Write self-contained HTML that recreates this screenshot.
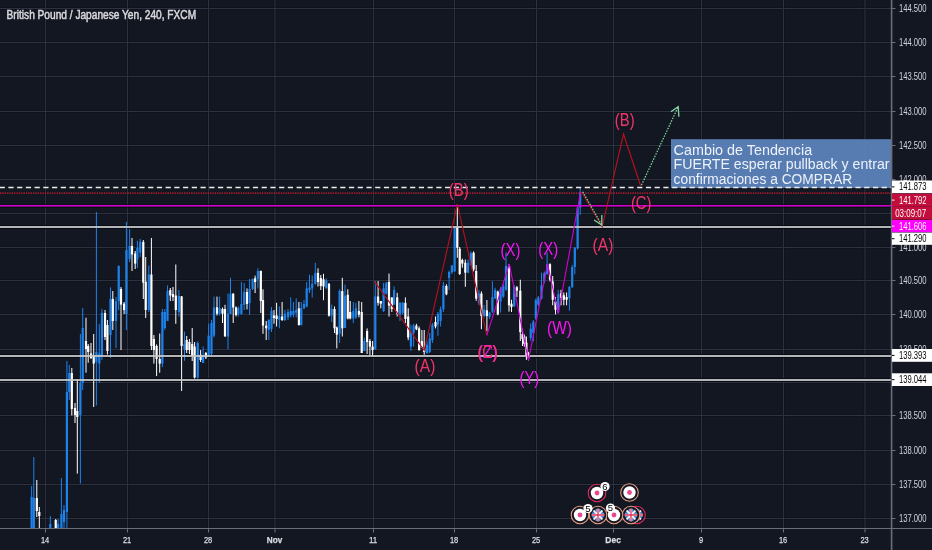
<!DOCTYPE html>
<html><head><meta charset="utf-8"><title>GBPJPY</title>
<style>html,body{margin:0;padding:0;background:#131722;width:932px;height:550px;overflow:hidden}svg{display:block;will-change:transform}</style>
</head><body>
<svg width="932" height="550" viewBox="0 0 932 550"><defs><clipPath id="chartclip"><rect x="0" y="0" width="891.0" height="528.0"/></clipPath></defs><rect x="0" y="0" width="932" height="550" fill="#131722"/>
<rect x="0" y="7" width="891.0" height="1" fill="#10131b"/>
<rect x="0" y="9" width="891.0" height="1" fill="#10131b"/>
<rect x="0" y="41" width="891.0" height="1" fill="#10131b"/>
<rect x="0" y="43" width="891.0" height="1" fill="#10131b"/>
<rect x="0" y="75" width="891.0" height="1" fill="#10131b"/>
<rect x="0" y="77" width="891.0" height="1" fill="#10131b"/>
<rect x="0" y="110" width="891.0" height="1" fill="#10131b"/>
<rect x="0" y="112" width="891.0" height="1" fill="#10131b"/>
<rect x="0" y="144" width="891.0" height="1" fill="#10131b"/>
<rect x="0" y="146" width="891.0" height="1" fill="#10131b"/>
<rect x="0" y="178" width="891.0" height="1" fill="#10131b"/>
<rect x="0" y="180" width="891.0" height="1" fill="#10131b"/>
<rect x="0" y="212" width="891.0" height="1" fill="#10131b"/>
<rect x="0" y="214" width="891.0" height="1" fill="#10131b"/>
<rect x="0" y="246" width="891.0" height="1" fill="#10131b"/>
<rect x="0" y="248" width="891.0" height="1" fill="#10131b"/>
<rect x="0" y="279" width="891.0" height="1" fill="#10131b"/>
<rect x="0" y="281" width="891.0" height="1" fill="#10131b"/>
<rect x="0" y="313" width="891.0" height="1" fill="#10131b"/>
<rect x="0" y="315" width="891.0" height="1" fill="#10131b"/>
<rect x="0" y="348" width="891.0" height="1" fill="#10131b"/>
<rect x="0" y="350" width="891.0" height="1" fill="#10131b"/>
<rect x="0" y="381" width="891.0" height="1" fill="#10131b"/>
<rect x="0" y="383" width="891.0" height="1" fill="#10131b"/>
<rect x="0" y="414" width="891.0" height="1" fill="#10131b"/>
<rect x="0" y="416" width="891.0" height="1" fill="#10131b"/>
<rect x="0" y="449" width="891.0" height="1" fill="#10131b"/>
<rect x="0" y="451" width="891.0" height="1" fill="#10131b"/>
<rect x="0" y="483" width="891.0" height="1" fill="#10131b"/>
<rect x="0" y="485" width="891.0" height="1" fill="#10131b"/>
<rect x="0" y="517" width="891.0" height="1" fill="#10131b"/>
<rect x="0" y="519" width="891.0" height="1" fill="#10131b"/>
<rect x="44" y="0" width="1" height="528.0" fill="#10131b"/>
<rect x="46" y="0" width="1" height="528.0" fill="#10131b"/>
<rect x="126" y="0" width="1" height="528.0" fill="#10131b"/>
<rect x="128" y="0" width="1" height="528.0" fill="#10131b"/>
<rect x="207" y="0" width="1" height="528.0" fill="#10131b"/>
<rect x="209" y="0" width="1" height="528.0" fill="#10131b"/>
<rect x="273.5" y="0" width="1" height="528.0" fill="#10131b"/>
<rect x="275.5" y="0" width="1" height="528.0" fill="#10131b"/>
<rect x="372" y="0" width="1" height="528.0" fill="#10131b"/>
<rect x="374" y="0" width="1" height="528.0" fill="#10131b"/>
<rect x="453" y="0" width="1" height="528.0" fill="#10131b"/>
<rect x="455" y="0" width="1" height="528.0" fill="#10131b"/>
<rect x="535" y="0" width="1" height="528.0" fill="#10131b"/>
<rect x="537" y="0" width="1" height="528.0" fill="#10131b"/>
<rect x="612" y="0" width="1" height="528.0" fill="#10131b"/>
<rect x="614" y="0" width="1" height="528.0" fill="#10131b"/>
<rect x="700" y="0" width="1" height="528.0" fill="#10131b"/>
<rect x="702" y="0" width="1" height="528.0" fill="#10131b"/>
<rect x="782" y="0" width="1" height="528.0" fill="#10131b"/>
<rect x="784" y="0" width="1" height="528.0" fill="#10131b"/>
<rect x="863.5" y="0" width="1" height="528.0" fill="#10131b"/>
<rect x="865.5" y="0" width="1" height="528.0" fill="#10131b"/>
<rect x="0" y="8" width="891.0" height="1" fill="#2d3243"/>
<rect x="0" y="42" width="891.0" height="1" fill="#2d3243"/>
<rect x="0" y="76" width="891.0" height="1" fill="#2d3243"/>
<rect x="0" y="111" width="891.0" height="1" fill="#2d3243"/>
<rect x="0" y="145" width="891.0" height="1" fill="#2d3243"/>
<rect x="0" y="179" width="891.0" height="1" fill="#2d3243"/>
<rect x="0" y="213" width="891.0" height="1" fill="#2d3243"/>
<rect x="0" y="247" width="891.0" height="1" fill="#2d3243"/>
<rect x="0" y="280" width="891.0" height="1" fill="#2d3243"/>
<rect x="0" y="314" width="891.0" height="1" fill="#2d3243"/>
<rect x="0" y="349" width="891.0" height="1" fill="#2d3243"/>
<rect x="0" y="382" width="891.0" height="1" fill="#2d3243"/>
<rect x="0" y="415" width="891.0" height="1" fill="#2d3243"/>
<rect x="0" y="450" width="891.0" height="1" fill="#2d3243"/>
<rect x="0" y="484" width="891.0" height="1" fill="#2d3243"/>
<rect x="0" y="518" width="891.0" height="1" fill="#2d3243"/>
<rect x="45" y="0" width="1" height="528.0" fill="#2d3243"/>
<rect x="127" y="0" width="1" height="528.0" fill="#2d3243"/>
<rect x="208" y="0" width="1" height="528.0" fill="#2d3243"/>
<rect x="274.5" y="0" width="1" height="528.0" fill="#2d3243"/>
<rect x="373" y="0" width="1" height="528.0" fill="#2d3243"/>
<rect x="454" y="0" width="1" height="528.0" fill="#2d3243"/>
<rect x="536" y="0" width="1" height="528.0" fill="#2d3243"/>
<rect x="613" y="0" width="1" height="528.0" fill="#2d3243"/>
<rect x="701" y="0" width="1" height="528.0" fill="#2d3243"/>
<rect x="783" y="0" width="1" height="528.0" fill="#2d3243"/>
<rect x="864.5" y="0" width="1" height="528.0" fill="#2d3243"/>
<rect x="0" y="225" width="891.0" height="1" fill="#0a0b10"/>
<rect x="0" y="228" width="891.0" height="1" fill="#0a0b10"/>
<rect x="0" y="354" width="891.0" height="1" fill="#0a0b10"/>
<rect x="0" y="357" width="891.0" height="1" fill="#0a0b10"/>
<rect x="0" y="378" width="891.0" height="1" fill="#0a0b10"/>
<rect x="0" y="381" width="891.0" height="1" fill="#0a0b10"/>
<rect x="0" y="203.9" width="891.0" height="1" fill="#021206"/>
<rect x="0" y="206.6" width="891.0" height="1" fill="#021206"/>
<g clip-path="url(#chartclip)">
<rect x="31.10" y="486.00" width="1" height="44.00" fill="#1d82ea"/>
<rect x="30.50" y="497.00" width="2.2" height="33.00" fill="#1d82ea"/>
<rect x="33.30" y="457.00" width="1" height="73.00" fill="#1d82ea"/>
<rect x="32.70" y="498.00" width="2.2" height="32.00" fill="#1d82ea"/>
<rect x="36.30" y="480.00" width="1" height="37.00" fill="#ffffff"/>
<rect x="35.70" y="498.00" width="2.2" height="13.00" fill="#ffffff"/>
<rect x="38.80" y="507.00" width="1" height="23.00" fill="#ffffff"/>
<rect x="38.20" y="512.00" width="2.2" height="4.00" fill="#ffffff"/>
<rect x="49.80" y="516.00" width="1" height="14.00" fill="#1d82ea"/>
<rect x="49.20" y="524.00" width="2.2" height="4.00" fill="#1d82ea"/>
<rect x="55.20" y="519.00" width="1" height="11.00" fill="#ffffff"/>
<rect x="54.60" y="520.00" width="2.2" height="10.00" fill="#ffffff"/>
<rect x="57.60" y="519.00" width="1" height="11.00" fill="#1d82ea"/>
<rect x="57.00" y="524.00" width="2.2" height="4.00" fill="#1d82ea"/>
<rect x="60.90" y="478.00" width="1" height="52.00" fill="#1d82ea"/>
<rect x="60.30" y="514.00" width="2.2" height="16.00" fill="#1d82ea"/>
<rect x="63.50" y="505.00" width="1" height="25.00" fill="#1d82ea"/>
<rect x="62.90" y="510.00" width="2.2" height="12.00" fill="#1d82ea"/>
<rect x="66.40" y="361.00" width="1" height="169.00" fill="#1d82ea"/>
<rect x="65.80" y="392.00" width="2.2" height="120.00" fill="#1d82ea"/>
<rect x="68.80" y="365.00" width="1" height="35.00" fill="#1d82ea"/>
<rect x="68.20" y="373.00" width="2.2" height="19.00" fill="#1d82ea"/>
<rect x="71.30" y="368.00" width="1" height="47.50" fill="#ffffff"/>
<rect x="70.70" y="373.00" width="2.2" height="36.00" fill="#ffffff"/>
<rect x="74.50" y="403.00" width="1" height="20.00" fill="#ffffff"/>
<rect x="73.90" y="408.00" width="2.2" height="7.00" fill="#ffffff"/>
<rect x="76.80" y="379.00" width="1" height="94.60" fill="#ffffff"/>
<rect x="76.20" y="411.00" width="2.2" height="6.00" fill="#ffffff"/>
<rect x="79.90" y="334.00" width="1" height="149.60" fill="#1d82ea"/>
<rect x="79.30" y="383.00" width="2.2" height="32.00" fill="#1d82ea"/>
<rect x="82.20" y="308.00" width="1" height="82.00" fill="#1d82ea"/>
<rect x="81.60" y="328.00" width="2.2" height="55.00" fill="#1d82ea"/>
<rect x="85.50" y="317.70" width="1" height="55.00" fill="#ffffff"/>
<rect x="84.90" y="341.00" width="2.2" height="8.00" fill="#ffffff"/>
<rect x="87.70" y="344.00" width="1" height="18.70" fill="#ffffff"/>
<rect x="87.10" y="346.00" width="2.2" height="6.00" fill="#ffffff"/>
<rect x="90.50" y="343.00" width="1" height="16.00" fill="#ffffff"/>
<rect x="89.90" y="353.50" width="2.2" height="4.50" fill="#ffffff"/>
<rect x="93.20" y="334.00" width="1" height="73.00" fill="#ffffff"/>
<rect x="92.60" y="355.00" width="2.2" height="8.60" fill="#ffffff"/>
<rect x="95.90" y="212.00" width="1" height="193.50" fill="#1d82ea"/>
<rect x="95.30" y="352.00" width="2.2" height="10.00" fill="#1d82ea"/>
<rect x="98.80" y="323.80" width="1" height="59.20" fill="#1d82ea"/>
<rect x="98.20" y="353.50" width="2.2" height="10.10" fill="#1d82ea"/>
<rect x="101.40" y="309.00" width="1" height="51.00" fill="#1d82ea"/>
<rect x="100.80" y="312.80" width="2.2" height="42.20" fill="#1d82ea"/>
<rect x="104.50" y="310.00" width="1" height="30.00" fill="#ffffff"/>
<rect x="103.90" y="313.00" width="2.2" height="24.00" fill="#ffffff"/>
<rect x="106.90" y="320.00" width="1" height="34.50" fill="#ffffff"/>
<rect x="106.30" y="325.00" width="2.2" height="26.00" fill="#ffffff"/>
<rect x="110.00" y="287.30" width="1" height="70.70" fill="#1d82ea"/>
<rect x="109.40" y="299.00" width="2.2" height="36.00" fill="#1d82ea"/>
<rect x="112.30" y="291.00" width="1" height="39.00" fill="#ffffff"/>
<rect x="111.70" y="299.00" width="2.2" height="22.00" fill="#ffffff"/>
<rect x="115.50" y="297.00" width="1" height="51.00" fill="#1d82ea"/>
<rect x="114.90" y="301.00" width="2.2" height="20.00" fill="#1d82ea"/>
<rect x="118.20" y="265.40" width="1" height="44.60" fill="#1d82ea"/>
<rect x="117.60" y="266.00" width="2.2" height="35.00" fill="#1d82ea"/>
<rect x="120.50" y="287.00" width="1" height="63.00" fill="#ffffff"/>
<rect x="119.90" y="289.00" width="2.2" height="15.60" fill="#ffffff"/>
<rect x="123.60" y="302.00" width="1" height="12.00" fill="#ffffff"/>
<rect x="123.00" y="303.70" width="2.2" height="6.30" fill="#ffffff"/>
<rect x="125.90" y="222.00" width="1" height="108.00" fill="#1d82ea"/>
<rect x="125.30" y="250.00" width="2.2" height="64.00" fill="#1d82ea"/>
<rect x="129.10" y="229.00" width="1" height="33.00" fill="#1d82ea"/>
<rect x="128.50" y="246.00" width="2.2" height="13.00" fill="#1d82ea"/>
<rect x="131.50" y="238.00" width="1" height="33.00" fill="#ffffff"/>
<rect x="130.90" y="246.00" width="2.2" height="8.50" fill="#ffffff"/>
<rect x="134.70" y="251.00" width="1" height="18.00" fill="#ffffff"/>
<rect x="134.10" y="253.50" width="2.2" height="10.10" fill="#ffffff"/>
<rect x="136.90" y="240.70" width="1" height="27.30" fill="#1d82ea"/>
<rect x="136.30" y="248.00" width="2.2" height="11.00" fill="#1d82ea"/>
<rect x="139.70" y="238.80" width="1" height="18.20" fill="#1d82ea"/>
<rect x="139.10" y="241.70" width="2.2" height="10.90" fill="#1d82ea"/>
<rect x="142.80" y="240.00" width="1" height="59.00" fill="#ffffff"/>
<rect x="142.20" y="242.00" width="2.2" height="40.70" fill="#ffffff"/>
<rect x="145.20" y="257.00" width="1" height="61.00" fill="#ffffff"/>
<rect x="144.60" y="281.80" width="2.2" height="28.20" fill="#ffffff"/>
<rect x="148.30" y="265.50" width="1" height="46.50" fill="#1d82ea"/>
<rect x="147.70" y="274.50" width="2.2" height="35.50" fill="#1d82ea"/>
<rect x="150.90" y="238.00" width="1" height="112.00" fill="#ffffff"/>
<rect x="150.30" y="274.50" width="2.2" height="71.50" fill="#ffffff"/>
<rect x="153.40" y="335.00" width="1" height="28.60" fill="#ffffff"/>
<rect x="152.80" y="339.00" width="2.2" height="11.00" fill="#ffffff"/>
<rect x="156.10" y="344.40" width="1" height="31.60" fill="#ffffff"/>
<rect x="155.50" y="346.00" width="2.2" height="13.00" fill="#ffffff"/>
<rect x="159.20" y="333.50" width="1" height="39.20" fill="#ffffff"/>
<rect x="158.60" y="359.00" width="2.2" height="4.60" fill="#ffffff"/>
<rect x="161.90" y="309.00" width="1" height="58.00" fill="#1d82ea"/>
<rect x="161.30" y="312.00" width="2.2" height="51.60" fill="#1d82ea"/>
<rect x="164.30" y="309.00" width="1" height="21.00" fill="#1d82ea"/>
<rect x="163.70" y="312.00" width="2.2" height="16.00" fill="#1d82ea"/>
<rect x="167.00" y="285.50" width="1" height="35.50" fill="#1d82ea"/>
<rect x="166.40" y="291.00" width="2.2" height="30.00" fill="#1d82ea"/>
<rect x="169.80" y="288.00" width="1" height="13.00" fill="#ffffff"/>
<rect x="169.20" y="290.00" width="2.2" height="5.50" fill="#ffffff"/>
<rect x="172.50" y="287.00" width="1" height="14.00" fill="#ffffff"/>
<rect x="171.90" y="294.00" width="2.2" height="3.00" fill="#ffffff"/>
<rect x="175.30" y="264.50" width="1" height="59.30" fill="#ffffff"/>
<rect x="174.70" y="295.50" width="2.2" height="14.50" fill="#ffffff"/>
<rect x="178.40" y="290.00" width="1" height="26.50" fill="#1d82ea"/>
<rect x="177.80" y="296.00" width="2.2" height="16.00" fill="#1d82ea"/>
<rect x="181.10" y="296.00" width="1" height="95.00" fill="#ffffff"/>
<rect x="180.50" y="296.40" width="2.2" height="49.60" fill="#ffffff"/>
<rect x="184.00" y="331.60" width="1" height="29.20" fill="#1d82ea"/>
<rect x="183.40" y="344.00" width="2.2" height="5.00" fill="#1d82ea"/>
<rect x="186.20" y="336.00" width="1" height="17.00" fill="#ffffff"/>
<rect x="185.60" y="340.00" width="2.2" height="10.00" fill="#ffffff"/>
<rect x="188.90" y="339.00" width="1" height="15.00" fill="#ffffff"/>
<rect x="188.30" y="342.00" width="2.2" height="8.00" fill="#ffffff"/>
<rect x="191.70" y="328.00" width="1" height="33.00" fill="#ffffff"/>
<rect x="191.10" y="344.00" width="2.2" height="12.00" fill="#ffffff"/>
<rect x="194.10" y="342.00" width="1" height="36.50" fill="#ffffff"/>
<rect x="193.50" y="346.50" width="2.2" height="31.10" fill="#ffffff"/>
<rect x="197.20" y="341.50" width="1" height="37.00" fill="#1d82ea"/>
<rect x="196.60" y="343.00" width="2.2" height="34.60" fill="#1d82ea"/>
<rect x="200.10" y="350.00" width="1" height="12.00" fill="#ffffff"/>
<rect x="199.50" y="354.70" width="2.2" height="5.30" fill="#ffffff"/>
<rect x="202.60" y="346.50" width="1" height="16.50" fill="#1d82ea"/>
<rect x="202.00" y="355.00" width="2.2" height="8.00" fill="#1d82ea"/>
<rect x="205.40" y="352.00" width="1" height="7.00" fill="#ffffff"/>
<rect x="204.80" y="353.00" width="2.2" height="4.50" fill="#ffffff"/>
<rect x="208.10" y="323.70" width="1" height="32.00" fill="#1d82ea"/>
<rect x="207.50" y="335.60" width="2.2" height="20.10" fill="#1d82ea"/>
<rect x="211.00" y="320.00" width="1" height="36.00" fill="#1d82ea"/>
<rect x="210.40" y="323.00" width="2.2" height="31.00" fill="#1d82ea"/>
<rect x="213.50" y="296.60" width="1" height="40.80" fill="#1d82ea"/>
<rect x="212.90" y="307.30" width="2.2" height="28.30" fill="#1d82ea"/>
<rect x="216.50" y="296.60" width="1" height="18.90" fill="#ffffff"/>
<rect x="215.90" y="307.30" width="2.2" height="6.40" fill="#ffffff"/>
<rect x="219.10" y="296.60" width="1" height="18.90" fill="#1d82ea"/>
<rect x="218.50" y="308.00" width="2.2" height="5.70" fill="#1d82ea"/>
<rect x="222.00" y="307.50" width="1" height="15.50" fill="#ffffff"/>
<rect x="221.40" y="309.00" width="2.2" height="4.70" fill="#ffffff"/>
<rect x="224.50" y="304.80" width="1" height="31.70" fill="#ffffff"/>
<rect x="223.90" y="309.00" width="2.2" height="27.50" fill="#ffffff"/>
<rect x="227.50" y="293.60" width="1" height="55.70" fill="#1d82ea"/>
<rect x="226.90" y="313.70" width="2.2" height="22.80" fill="#1d82ea"/>
<rect x="230.00" y="277.80" width="1" height="36.20" fill="#1d82ea"/>
<rect x="229.40" y="293.80" width="2.2" height="20.20" fill="#1d82ea"/>
<rect x="232.70" y="293.00" width="1" height="30.00" fill="#ffffff"/>
<rect x="232.10" y="293.80" width="2.2" height="13.70" fill="#ffffff"/>
<rect x="235.50" y="306.40" width="1" height="10.10" fill="#ffffff"/>
<rect x="234.90" y="307.50" width="2.2" height="7.50" fill="#ffffff"/>
<rect x="237.80" y="306.40" width="1" height="10.10" fill="#1d82ea"/>
<rect x="237.20" y="308.00" width="2.2" height="6.00" fill="#1d82ea"/>
<rect x="240.90" y="282.00" width="1" height="32.80" fill="#1d82ea"/>
<rect x="240.30" y="303.90" width="2.2" height="10.10" fill="#1d82ea"/>
<rect x="243.70" y="283.00" width="1" height="27.00" fill="#1d82ea"/>
<rect x="243.10" y="292.00" width="2.2" height="12.80" fill="#1d82ea"/>
<rect x="246.50" y="288.40" width="1" height="21.00" fill="#ffffff"/>
<rect x="245.90" y="292.00" width="2.2" height="12.00" fill="#ffffff"/>
<rect x="249.10" y="279.00" width="1" height="36.00" fill="#1d82ea"/>
<rect x="248.50" y="289.00" width="2.2" height="14.00" fill="#1d82ea"/>
<rect x="252.10" y="278.30" width="1" height="11.70" fill="#1d82ea"/>
<rect x="251.50" y="279.00" width="2.2" height="10.00" fill="#1d82ea"/>
<rect x="254.60" y="275.60" width="1" height="17.40" fill="#ffffff"/>
<rect x="254.00" y="278.30" width="2.2" height="3.70" fill="#ffffff"/>
<rect x="257.40" y="268.30" width="1" height="20.10" fill="#1d82ea"/>
<rect x="256.80" y="271.00" width="2.2" height="8.30" fill="#1d82ea"/>
<rect x="260.30" y="270.50" width="1" height="42.50" fill="#ffffff"/>
<rect x="259.70" y="271.00" width="2.2" height="30.00" fill="#ffffff"/>
<rect x="262.50" y="289.30" width="1" height="44.50" fill="#ffffff"/>
<rect x="261.90" y="300.00" width="2.2" height="25.60" fill="#ffffff"/>
<rect x="265.70" y="321.00" width="1" height="19.00" fill="#ffffff"/>
<rect x="265.10" y="325.60" width="2.2" height="2.70" fill="#ffffff"/>
<rect x="268.30" y="319.00" width="1" height="21.00" fill="#1d82ea"/>
<rect x="267.70" y="320.00" width="2.2" height="10.00" fill="#1d82ea"/>
<rect x="271.00" y="307.00" width="1" height="25.00" fill="#1d82ea"/>
<rect x="270.40" y="311.00" width="2.2" height="18.00" fill="#1d82ea"/>
<rect x="273.50" y="310.00" width="1" height="13.70" fill="#ffffff"/>
<rect x="272.90" y="315.50" width="2.2" height="2.50" fill="#ffffff"/>
<rect x="276.10" y="302.80" width="1" height="23.70" fill="#ffffff"/>
<rect x="275.50" y="315.50" width="2.2" height="3.50" fill="#ffffff"/>
<rect x="278.90" y="306.40" width="1" height="21.90" fill="#1d82ea"/>
<rect x="278.30" y="316.50" width="2.2" height="3.50" fill="#1d82ea"/>
<rect x="281.60" y="301.90" width="1" height="19.10" fill="#ffffff"/>
<rect x="281.00" y="316.50" width="2.2" height="3.50" fill="#ffffff"/>
<rect x="284.40" y="310.00" width="1" height="11.00" fill="#1d82ea"/>
<rect x="283.80" y="313.70" width="2.2" height="6.30" fill="#1d82ea"/>
<rect x="287.50" y="309.00" width="1" height="11.00" fill="#1d82ea"/>
<rect x="286.90" y="312.00" width="2.2" height="5.40" fill="#1d82ea"/>
<rect x="290.20" y="297.30" width="1" height="20.10" fill="#1d82ea"/>
<rect x="289.60" y="311.00" width="2.2" height="4.50" fill="#1d82ea"/>
<rect x="292.90" y="301.90" width="1" height="15.50" fill="#1d82ea"/>
<rect x="292.30" y="311.00" width="2.2" height="3.60" fill="#1d82ea"/>
<rect x="295.70" y="298.40" width="1" height="19.00" fill="#1d82ea"/>
<rect x="295.10" y="310.00" width="2.2" height="2.80" fill="#1d82ea"/>
<rect x="298.40" y="302.00" width="1" height="23.60" fill="#ffffff"/>
<rect x="297.80" y="308.40" width="2.2" height="16.60" fill="#ffffff"/>
<rect x="300.80" y="302.00" width="1" height="23.60" fill="#1d82ea"/>
<rect x="300.20" y="308.20" width="2.2" height="16.80" fill="#1d82ea"/>
<rect x="303.50" y="300.00" width="1" height="9.00" fill="#1d82ea"/>
<rect x="302.90" y="304.00" width="2.2" height="4.40" fill="#1d82ea"/>
<rect x="306.20" y="282.00" width="1" height="25.30" fill="#1d82ea"/>
<rect x="305.60" y="288.40" width="2.2" height="18.20" fill="#1d82ea"/>
<rect x="309.00" y="274.70" width="1" height="18.30" fill="#1d82ea"/>
<rect x="308.40" y="287.50" width="2.2" height="2.70" fill="#1d82ea"/>
<rect x="311.70" y="275.60" width="1" height="21.90" fill="#1d82ea"/>
<rect x="311.10" y="283.80" width="2.2" height="4.60" fill="#1d82ea"/>
<rect x="314.80" y="262.80" width="1" height="21.90" fill="#1d82ea"/>
<rect x="314.20" y="272.90" width="2.2" height="10.90" fill="#1d82ea"/>
<rect x="317.50" y="268.30" width="1" height="18.20" fill="#ffffff"/>
<rect x="316.90" y="272.90" width="2.2" height="9.10" fill="#ffffff"/>
<rect x="320.30" y="275.00" width="1" height="15.00" fill="#ffffff"/>
<rect x="319.70" y="278.00" width="2.2" height="8.00" fill="#ffffff"/>
<rect x="323.00" y="273.80" width="1" height="26.40" fill="#ffffff"/>
<rect x="322.40" y="279.30" width="2.2" height="7.20" fill="#ffffff"/>
<rect x="325.80" y="278.30" width="1" height="10.10" fill="#1d82ea"/>
<rect x="325.20" y="280.30" width="2.2" height="8.10" fill="#1d82ea"/>
<rect x="328.50" y="283.00" width="1" height="33.60" fill="#ffffff"/>
<rect x="327.90" y="283.80" width="2.2" height="31.90" fill="#ffffff"/>
<rect x="331.20" y="304.60" width="1" height="17.40" fill="#1d82ea"/>
<rect x="330.60" y="309.00" width="2.2" height="6.50" fill="#1d82ea"/>
<rect x="334.00" y="306.40" width="1" height="26.60" fill="#ffffff"/>
<rect x="333.40" y="309.00" width="2.2" height="19.30" fill="#ffffff"/>
<rect x="336.30" y="326.50" width="1" height="21.90" fill="#ffffff"/>
<rect x="335.70" y="327.40" width="2.2" height="7.30" fill="#ffffff"/>
<rect x="339.10" y="289.30" width="1" height="53.70" fill="#1d82ea"/>
<rect x="338.50" y="291.00" width="2.2" height="42.80" fill="#1d82ea"/>
<rect x="341.80" y="277.80" width="1" height="58.70" fill="#ffffff"/>
<rect x="341.20" y="291.10" width="2.2" height="37.20" fill="#ffffff"/>
<rect x="344.50" y="284.70" width="1" height="43.30" fill="#1d82ea"/>
<rect x="343.90" y="295.70" width="2.2" height="32.30" fill="#1d82ea"/>
<rect x="347.30" y="289.30" width="1" height="30.10" fill="#ffffff"/>
<rect x="346.70" y="294.80" width="2.2" height="23.70" fill="#ffffff"/>
<rect x="349.70" y="301.00" width="1" height="18.40" fill="#ffffff"/>
<rect x="349.10" y="312.00" width="2.2" height="6.50" fill="#ffffff"/>
<rect x="352.80" y="302.00" width="1" height="21.00" fill="#1d82ea"/>
<rect x="352.20" y="311.00" width="2.2" height="7.50" fill="#1d82ea"/>
<rect x="355.40" y="302.80" width="1" height="16.20" fill="#1d82ea"/>
<rect x="354.80" y="308.30" width="2.2" height="9.10" fill="#1d82ea"/>
<rect x="358.40" y="301.00" width="1" height="16.40" fill="#ffffff"/>
<rect x="357.80" y="311.00" width="2.2" height="3.70" fill="#ffffff"/>
<rect x="361.20" y="302.00" width="1" height="51.00" fill="#ffffff"/>
<rect x="360.60" y="312.00" width="2.2" height="41.00" fill="#ffffff"/>
<rect x="363.90" y="337.50" width="1" height="13.50" fill="#1d82ea"/>
<rect x="363.30" y="341.00" width="2.2" height="10.00" fill="#1d82ea"/>
<rect x="366.60" y="328.40" width="1" height="25.60" fill="#ffffff"/>
<rect x="366.00" y="331.00" width="2.2" height="11.00" fill="#ffffff"/>
<rect x="369.40" y="339.00" width="1" height="16.00" fill="#ffffff"/>
<rect x="368.80" y="341.00" width="2.2" height="5.60" fill="#ffffff"/>
<rect x="372.10" y="341.00" width="1" height="15.60" fill="#ffffff"/>
<rect x="371.50" y="346.60" width="2.2" height="3.40" fill="#ffffff"/>
<rect x="374.80" y="281.00" width="1" height="68.40" fill="#1d82ea"/>
<rect x="374.20" y="296.50" width="2.2" height="52.90" fill="#1d82ea"/>
<rect x="377.60" y="281.00" width="1" height="24.60" fill="#ffffff"/>
<rect x="377.00" y="296.50" width="2.2" height="6.30" fill="#ffffff"/>
<rect x="380.30" y="301.00" width="1" height="7.30" fill="#ffffff"/>
<rect x="379.70" y="301.00" width="2.2" height="2.70" fill="#ffffff"/>
<rect x="383.10" y="282.80" width="1" height="29.20" fill="#1d82ea"/>
<rect x="382.50" y="288.20" width="2.2" height="22.80" fill="#1d82ea"/>
<rect x="385.80" y="281.90" width="1" height="12.70" fill="#1d82ea"/>
<rect x="385.20" y="282.80" width="2.2" height="10.90" fill="#1d82ea"/>
<rect x="388.50" y="273.60" width="1" height="42.90" fill="#ffffff"/>
<rect x="387.90" y="281.90" width="2.2" height="23.70" fill="#ffffff"/>
<rect x="391.30" y="297.40" width="1" height="14.60" fill="#ffffff"/>
<rect x="390.70" y="297.40" width="2.2" height="11.60" fill="#ffffff"/>
<rect x="393.60" y="286.40" width="1" height="18.30" fill="#1d82ea"/>
<rect x="393.00" y="290.00" width="2.2" height="14.70" fill="#1d82ea"/>
<rect x="396.70" y="292.80" width="1" height="23.70" fill="#ffffff"/>
<rect x="396.10" y="297.40" width="2.2" height="16.40" fill="#ffffff"/>
<rect x="399.50" y="302.00" width="1" height="19.00" fill="#1d82ea"/>
<rect x="398.90" y="302.80" width="2.2" height="11.90" fill="#1d82ea"/>
<rect x="402.20" y="302.00" width="1" height="12.70" fill="#1d82ea"/>
<rect x="401.60" y="302.80" width="2.2" height="10.10" fill="#1d82ea"/>
<rect x="404.90" y="297.40" width="1" height="25.60" fill="#ffffff"/>
<rect x="404.30" y="302.80" width="2.2" height="16.20" fill="#ffffff"/>
<rect x="407.70" y="308.30" width="1" height="31.90" fill="#ffffff"/>
<rect x="407.10" y="316.50" width="2.2" height="21.00" fill="#ffffff"/>
<rect x="410.40" y="324.70" width="1" height="26.30" fill="#1d82ea"/>
<rect x="409.80" y="332.00" width="2.2" height="14.60" fill="#1d82ea"/>
<rect x="413.10" y="323.80" width="1" height="22.80" fill="#1d82ea"/>
<rect x="412.50" y="325.60" width="2.2" height="7.40" fill="#1d82ea"/>
<rect x="415.90" y="323.80" width="1" height="6.40" fill="#ffffff"/>
<rect x="415.30" y="325.60" width="2.2" height="3.70" fill="#ffffff"/>
<rect x="418.60" y="326.50" width="1" height="23.80" fill="#ffffff"/>
<rect x="418.00" y="328.40" width="2.2" height="21.90" fill="#ffffff"/>
<rect x="421.40" y="330.00" width="1" height="17.50" fill="#ffffff"/>
<rect x="420.80" y="341.00" width="2.2" height="6.50" fill="#ffffff"/>
<rect x="423.70" y="330.00" width="1" height="24.80" fill="#ffffff"/>
<rect x="423.10" y="348.40" width="2.2" height="3.60" fill="#ffffff"/>
<rect x="426.50" y="341.00" width="1" height="13.00" fill="#1d82ea"/>
<rect x="425.90" y="344.80" width="2.2" height="8.20" fill="#1d82ea"/>
<rect x="429.20" y="333.00" width="1" height="20.00" fill="#1d82ea"/>
<rect x="428.60" y="338.40" width="2.2" height="13.60" fill="#1d82ea"/>
<rect x="431.90" y="323.00" width="1" height="20.00" fill="#1d82ea"/>
<rect x="431.30" y="324.70" width="2.2" height="15.50" fill="#1d82ea"/>
<rect x="435.00" y="316.50" width="1" height="11.90" fill="#ffffff"/>
<rect x="434.40" y="322.00" width="2.2" height="4.50" fill="#ffffff"/>
<rect x="437.40" y="312.00" width="1" height="23.70" fill="#1d82ea"/>
<rect x="436.80" y="313.80" width="2.2" height="10.90" fill="#1d82ea"/>
<rect x="440.10" y="306.50" width="1" height="20.00" fill="#1d82ea"/>
<rect x="439.50" y="309.20" width="2.2" height="11.80" fill="#1d82ea"/>
<rect x="442.90" y="282.00" width="1" height="30.00" fill="#1d82ea"/>
<rect x="442.30" y="285.50" width="2.2" height="23.70" fill="#1d82ea"/>
<rect x="445.90" y="284.30" width="1" height="10.90" fill="#ffffff"/>
<rect x="445.30" y="286.00" width="2.2" height="8.30" fill="#ffffff"/>
<rect x="448.60" y="270.50" width="1" height="19.50" fill="#1d82ea"/>
<rect x="448.00" y="272.00" width="2.2" height="6.00" fill="#1d82ea"/>
<rect x="451.40" y="265.00" width="1" height="9.00" fill="#1d82ea"/>
<rect x="450.80" y="265.50" width="2.2" height="6.80" fill="#1d82ea"/>
<rect x="454.10" y="227.00" width="1" height="44.50" fill="#1d82ea"/>
<rect x="453.50" y="228.00" width="2.2" height="43.50" fill="#1d82ea"/>
<rect x="456.80" y="204.20" width="1" height="53.60" fill="#ffffff"/>
<rect x="456.20" y="227.00" width="2.2" height="20.80" fill="#ffffff"/>
<rect x="459.20" y="247.00" width="1" height="28.00" fill="#ffffff"/>
<rect x="458.60" y="248.70" width="2.2" height="25.30" fill="#ffffff"/>
<rect x="461.80" y="258.60" width="1" height="9.10" fill="#ffffff"/>
<rect x="461.20" y="260.00" width="2.2" height="3.60" fill="#ffffff"/>
<rect x="464.80" y="259.50" width="1" height="27.30" fill="#ffffff"/>
<rect x="464.20" y="262.70" width="2.2" height="10.00" fill="#ffffff"/>
<rect x="467.60" y="259.50" width="1" height="13.80" fill="#1d82ea"/>
<rect x="467.00" y="262.70" width="2.2" height="10.00" fill="#1d82ea"/>
<rect x="470.40" y="251.40" width="1" height="14.60" fill="#1d82ea"/>
<rect x="469.80" y="253.20" width="2.2" height="11.80" fill="#1d82ea"/>
<rect x="473.10" y="251.40" width="1" height="20.00" fill="#ffffff"/>
<rect x="472.50" y="252.70" width="2.2" height="16.80" fill="#ffffff"/>
<rect x="475.70" y="265.00" width="1" height="35.80" fill="#ffffff"/>
<rect x="475.10" y="271.00" width="2.2" height="27.60" fill="#ffffff"/>
<rect x="478.40" y="290.00" width="1" height="15.00" fill="#1d82ea"/>
<rect x="477.80" y="293.50" width="2.2" height="9.50" fill="#1d82ea"/>
<rect x="480.90" y="291.40" width="1" height="37.80" fill="#ffffff"/>
<rect x="480.30" y="293.50" width="2.2" height="22.50" fill="#ffffff"/>
<rect x="483.60" y="305.00" width="1" height="12.50" fill="#1d82ea"/>
<rect x="483.00" y="309.50" width="2.2" height="6.50" fill="#1d82ea"/>
<rect x="486.40" y="300.00" width="1" height="31.40" fill="#ffffff"/>
<rect x="485.80" y="310.30" width="2.2" height="5.70" fill="#ffffff"/>
<rect x="489.10" y="311.70" width="1" height="7.30" fill="#1d82ea"/>
<rect x="488.50" y="312.50" width="2.2" height="4.30" fill="#1d82ea"/>
<rect x="491.90" y="281.20" width="1" height="31.80" fill="#1d82ea"/>
<rect x="491.30" y="297.00" width="2.2" height="14.70" fill="#1d82ea"/>
<rect x="494.60" y="287.70" width="1" height="10.90" fill="#1d82ea"/>
<rect x="494.00" y="290.00" width="2.2" height="8.60" fill="#1d82ea"/>
<rect x="497.30" y="290.70" width="1" height="24.60" fill="#ffffff"/>
<rect x="496.70" y="291.60" width="2.2" height="22.80" fill="#ffffff"/>
<rect x="500.10" y="287.00" width="1" height="25.60" fill="#1d82ea"/>
<rect x="499.50" y="289.00" width="2.2" height="12.60" fill="#1d82ea"/>
<rect x="502.80" y="284.30" width="1" height="13.70" fill="#1d82ea"/>
<rect x="502.20" y="286.20" width="2.2" height="10.30" fill="#1d82ea"/>
<rect x="505.50" y="252.40" width="1" height="38.30" fill="#1d82ea"/>
<rect x="504.90" y="266.00" width="2.2" height="23.80" fill="#1d82ea"/>
<rect x="508.50" y="264.20" width="1" height="47.40" fill="#ffffff"/>
<rect x="507.90" y="266.00" width="2.2" height="39.30" fill="#ffffff"/>
<rect x="511.00" y="299.80" width="1" height="12.20" fill="#ffffff"/>
<rect x="510.40" y="303.70" width="2.2" height="3.30" fill="#ffffff"/>
<rect x="513.70" y="285.20" width="1" height="21.80" fill="#1d82ea"/>
<rect x="513.10" y="287.00" width="2.2" height="19.20" fill="#1d82ea"/>
<rect x="516.40" y="286.00" width="1" height="11.00" fill="#ffffff"/>
<rect x="515.80" y="287.30" width="2.2" height="3.40" fill="#ffffff"/>
<rect x="519.80" y="279.70" width="1" height="61.30" fill="#ffffff"/>
<rect x="519.20" y="290.70" width="2.2" height="41.50" fill="#ffffff"/>
<rect x="522.00" y="328.70" width="1" height="17.30" fill="#ffffff"/>
<rect x="521.40" y="334.00" width="2.2" height="5.00" fill="#ffffff"/>
<rect x="523.80" y="334.50" width="1" height="12.10" fill="#ffffff"/>
<rect x="523.20" y="336.30" width="2.2" height="7.70" fill="#ffffff"/>
<rect x="525.90" y="336.50" width="1" height="23.30" fill="#ffffff"/>
<rect x="525.30" y="342.50" width="2.2" height="13.00" fill="#ffffff"/>
<rect x="528.00" y="351.80" width="1" height="8.60" fill="#ffffff"/>
<rect x="527.40" y="353.50" width="2.2" height="4.40" fill="#ffffff"/>
<rect x="530.20" y="323.50" width="1" height="17.30" fill="#1d82ea"/>
<rect x="529.60" y="328.70" width="2.2" height="9.30" fill="#1d82ea"/>
<rect x="532.80" y="320.00" width="1" height="21.50" fill="#1d82ea"/>
<rect x="532.20" y="321.80" width="2.2" height="11.20" fill="#1d82ea"/>
<rect x="535.30" y="298.50" width="1" height="21.50" fill="#1d82ea"/>
<rect x="534.70" y="300.20" width="2.2" height="18.20" fill="#1d82ea"/>
<rect x="537.80" y="296.00" width="1" height="10.00" fill="#1d82ea"/>
<rect x="537.20" y="297.60" width="2.2" height="6.90" fill="#1d82ea"/>
<rect x="541.00" y="272.60" width="1" height="26.80" fill="#1d82ea"/>
<rect x="540.40" y="285.50" width="2.2" height="13.00" fill="#1d82ea"/>
<rect x="543.80" y="271.50" width="1" height="11.90" fill="#1d82ea"/>
<rect x="543.20" y="273.30" width="2.2" height="8.20" fill="#1d82ea"/>
<rect x="546.60" y="252.40" width="1" height="21.90" fill="#1d82ea"/>
<rect x="546.00" y="264.20" width="2.2" height="10.10" fill="#1d82ea"/>
<rect x="549.50" y="263.30" width="1" height="18.20" fill="#ffffff"/>
<rect x="548.90" y="264.20" width="2.2" height="15.50" fill="#ffffff"/>
<rect x="552.20" y="276.00" width="1" height="29.30" fill="#ffffff"/>
<rect x="551.60" y="281.50" width="2.2" height="18.30" fill="#ffffff"/>
<rect x="555.00" y="297.00" width="1" height="17.40" fill="#ffffff"/>
<rect x="554.40" y="301.60" width="2.2" height="8.20" fill="#ffffff"/>
<rect x="557.70" y="289.80" width="1" height="23.70" fill="#1d82ea"/>
<rect x="557.10" y="294.30" width="2.2" height="18.30" fill="#1d82ea"/>
<rect x="560.50" y="289.80" width="1" height="15.50" fill="#ffffff"/>
<rect x="559.90" y="293.40" width="2.2" height="4.60" fill="#ffffff"/>
<rect x="563.30" y="292.50" width="1" height="12.80" fill="#ffffff"/>
<rect x="562.70" y="295.20" width="2.2" height="4.60" fill="#ffffff"/>
<rect x="566.10" y="292.50" width="1" height="12.80" fill="#ffffff"/>
<rect x="565.50" y="297.00" width="2.2" height="2.80" fill="#ffffff"/>
<rect x="568.90" y="286.00" width="1" height="24.70" fill="#1d82ea"/>
<rect x="568.30" y="287.00" width="2.2" height="11.00" fill="#1d82ea"/>
<rect x="571.70" y="265.00" width="1" height="23.00" fill="#1d82ea"/>
<rect x="571.10" y="267.00" width="2.2" height="20.00" fill="#1d82ea"/>
<rect x="574.30" y="247.00" width="1" height="27.30" fill="#1d82ea"/>
<rect x="573.70" y="247.80" width="2.2" height="19.20" fill="#1d82ea"/>
<rect x="577.10" y="207.00" width="1" height="42.40" fill="#1d82ea"/>
<rect x="576.50" y="207.60" width="2.2" height="40.80" fill="#1d82ea"/>
<rect x="579.70" y="187.50" width="1" height="27.50" fill="#1d82ea"/>
<rect x="579.10" y="192.40" width="2.2" height="15.20" fill="#1d82ea"/>
</g>
<rect x="671" y="139.2" width="220.5" height="48.8" fill="rgb(98,139,200)" fill-opacity="0.87"/>
<text x="673.6" y="154.8" font-family="Liberation Sans" font-size="14" fill="#eef2fa" textLength="138.6" lengthAdjust="spacingAndGlyphs">Cambio de Tendencia</text>
<text x="673.6" y="169.4" font-family="Liberation Sans" font-size="14" fill="#eef2fa" textLength="216" lengthAdjust="spacingAndGlyphs">FUERTE esperar pullback y entrar</text>
<text x="673.6" y="183.6" font-family="Liberation Sans" font-size="14" fill="#eef2fa" textLength="178.5" lengthAdjust="spacingAndGlyphs">confirmaciones a COMPRAR</text>
<line x1="0" y1="187.5" x2="891.0" y2="187.5" stroke="#ececec" stroke-width="1.3" stroke-dasharray="5.2 3.533" stroke-dashoffset="0.35"/>
<line x1="0" y1="193.1" x2="891.0" y2="193.1" stroke="#ab1c2d" stroke-width="1.6" stroke-dasharray="1.25 1.11"/>
<rect x="0" y="204.9" width="891.0" height="1.7" fill="#cd00cd"/>
<rect x="0" y="226.1" width="891.0" height="1.8" fill="#c5c7cb"/>
<rect x="0" y="355.1" width="891.0" height="1.8" fill="#c5c7cb"/>
<rect x="0" y="379.1" width="891.0" height="1.8" fill="#c5c7cb"/>
<polyline points="374.4,281.3 424.2,350.3 457.4,204.2 486.8,335.4" fill="none" stroke="#b2111f" stroke-width="1.15"/>
<polyline points="486.8,335.4 509.3,263.9 528.4,360.4 547.6,263.9 558.2,313.5 580.6,192.2" fill="none" stroke="#d200d2" stroke-width="1.1"/>
<polyline points="582.5,193.3 602.2,226.8 623.5,134 640.7,186" fill="none" stroke="#b2111f" stroke-width="1.15"/>
<line x1="582.7" y1="191.8" x2="601.8" y2="225" stroke="#7fd6a0" stroke-width="1.25" stroke-dasharray="1.5 1.3"/>
<polyline points="594.1,220 601.8,225 601.8,215" fill="none" stroke="#7fd6a0" stroke-width="1.3"/>
<line x1="641.5" y1="185" x2="678.2" y2="106.8" stroke="#7fd6a0" stroke-width="1.25" stroke-dasharray="1.5 1.3"/>
<polyline points="670.9,111.8 678.2,106.8 678.9,116.8" fill="none" stroke="#7fd6a0" stroke-width="1.3"/>
<text x="458.7" y="196.00" text-anchor="middle" font-family="Liberation Sans" font-size="18.5" fill="#f23568" textLength="19.8" lengthAdjust="spacingAndGlyphs">(B)</text>
<text x="425" y="372.00" text-anchor="middle" font-family="Liberation Sans" font-size="18.5" fill="#f23568" textLength="20.8" lengthAdjust="spacingAndGlyphs">(A)</text>
<text x="487.7" y="358.30" text-anchor="middle" font-family="Liberation Sans" font-size="18.5" fill="#f614f6" textLength="19.5" lengthAdjust="spacingAndGlyphs">(Z)</text>
<text x="487.7" y="358.30" text-anchor="middle" font-family="Liberation Sans" font-size="18.5" fill="#f23568" textLength="20.5" lengthAdjust="spacingAndGlyphs">(C)</text>
<text x="510.5" y="255.60" text-anchor="middle" font-family="Liberation Sans" font-size="18.5" fill="#f614f6" textLength="20" lengthAdjust="spacingAndGlyphs">(X)</text>
<text x="548.2" y="255.20" text-anchor="middle" font-family="Liberation Sans" font-size="18.5" fill="#f614f6" textLength="20" lengthAdjust="spacingAndGlyphs">(X)</text>
<text x="529.4" y="383.90" text-anchor="middle" font-family="Liberation Sans" font-size="18.5" fill="#f614f6" textLength="19.7" lengthAdjust="spacingAndGlyphs">(Y)</text>
<text x="559.5" y="334.10" text-anchor="middle" font-family="Liberation Sans" font-size="18.5" fill="#f614f6" textLength="25" lengthAdjust="spacingAndGlyphs">(W)</text>
<text x="603" y="250.90" text-anchor="middle" font-family="Liberation Sans" font-size="18.5" fill="#f23568" textLength="20.8" lengthAdjust="spacingAndGlyphs">(A)</text>
<text x="624.7" y="125.50" text-anchor="middle" font-family="Liberation Sans" font-size="18.5" fill="#f23568" textLength="19.8" lengthAdjust="spacingAndGlyphs">(B)</text>
<text x="641.2" y="209.10" text-anchor="middle" font-family="Liberation Sans" font-size="18.5" fill="#f23568" textLength="20.5" lengthAdjust="spacingAndGlyphs">(C)</text>
<text x="6.6" y="18.9" font-family="Liberation Sans" font-size="12" fill="#d8d9de" stroke="#d8d9de" stroke-width="0.5" textLength="189.5" lengthAdjust="spacingAndGlyphs">British Pound / Japanese Yen, 240, FXCM</text>
<circle cx="636.5" cy="515" r="8.8" fill="#131722" stroke="#e2285c" stroke-width="1.1"/>
<g><circle cx="636.5" cy="515" r="6.2" fill="#3b6db3"/><path d="M632.1,510.6L640.9,519.4M632.1,519.4L640.9,510.6" stroke="#fff" stroke-width="1.6"/><path d="M630.3,515H642.7M636.5,508.8V521.2" stroke="#fff" stroke-width="2.6"/><path d="M630.3,515H642.7M636.5,508.8V521.2" stroke="#e0305a" stroke-width="1.3"/></g>
<circle cx="631" cy="515" r="8.8" fill="#131722" stroke="#e59c80" stroke-width="1.1"/>
<g><circle cx="631" cy="515" r="6.2" fill="#3b6db3"/><path d="M626.6,510.6L635.4,519.4M626.6,519.4L635.4,510.6" stroke="#fff" stroke-width="1.6"/><path d="M624.8,515H637.2M631,508.8V521.2" stroke="#fff" stroke-width="2.6"/><path d="M624.8,515H637.2M631,508.8V521.2" stroke="#e0305a" stroke-width="1.3"/></g>
<circle cx="614" cy="515" r="8.8" fill="#131722" stroke="#e59c80" stroke-width="1.1"/>
<circle cx="614" cy="515" r="6.2" fill="#ffffff"/><circle cx="614" cy="515" r="2.4" fill="#e8488f"/>
<circle cx="598" cy="515" r="8.8" fill="#131722" stroke="#e59c80" stroke-width="1.1"/>
<g><circle cx="598" cy="515" r="6.2" fill="#3b6db3"/><path d="M593.6,510.6L602.4,519.4M593.6,519.4L602.4,510.6" stroke="#fff" stroke-width="1.6"/><path d="M591.8,515H604.2M598,508.8V521.2" stroke="#fff" stroke-width="2.6"/><path d="M591.8,515H604.2M598,508.8V521.2" stroke="#e0305a" stroke-width="1.3"/></g>
<circle cx="580" cy="515" r="8.8" fill="#131722" stroke="#e59c80" stroke-width="1.1"/>
<circle cx="580" cy="515" r="6.2" fill="#ffffff"/><circle cx="580" cy="515" r="2.4" fill="#e8488f"/>
<circle cx="588" cy="508.5" r="4.6" fill="#ffffff"/>
<text x="588" y="511.8" text-anchor="middle" font-family="Liberation Sans" font-size="9.5" fill="#000">5</text>
<circle cx="610.5" cy="508" r="4.6" fill="#ffffff"/>
<text x="610.5" y="511.3" text-anchor="middle" font-family="Liberation Sans" font-size="9.5" fill="#000">5</text>
<circle cx="629.5" cy="492.5" r="8.8" fill="#131722" stroke="#e59c80" stroke-width="1.1"/>
<circle cx="629.5" cy="492.5" r="6.2" fill="#ffffff"/><circle cx="629.5" cy="492.5" r="2.4" fill="#e8488f"/>
<circle cx="597" cy="493" r="8.8" fill="#131722" stroke="#e2285c" stroke-width="1.1"/>
<circle cx="597" cy="493" r="6.2" fill="#ffffff"/><circle cx="597" cy="493" r="2.4" fill="#e8488f"/>
<circle cx="605" cy="486.5" r="4.6" fill="#ffffff"/>
<text x="605" y="489.8" text-anchor="middle" font-family="Liberation Sans" font-size="9.5" fill="#000">6</text>
<rect x="890.8" y="0" width="1.6" height="550" fill="#6b6e78"/>
<rect x="0" y="528.0" width="932" height="1" fill="#6b6e78"/>
<rect x="892.0" y="8" width="3.5" height="1" fill="#6b6e78"/>
<text x="899" y="12.10" font-family="Liberation Sans" font-size="10.2" fill="#d1d4dc" textLength="27.6" lengthAdjust="spacingAndGlyphs">144.500</text>
<rect x="892.0" y="42" width="3.5" height="1" fill="#6b6e78"/>
<text x="899" y="46.10" font-family="Liberation Sans" font-size="10.2" fill="#d1d4dc" textLength="27.6" lengthAdjust="spacingAndGlyphs">144.000</text>
<rect x="892.0" y="76" width="3.5" height="1" fill="#6b6e78"/>
<text x="899" y="80.10" font-family="Liberation Sans" font-size="10.2" fill="#d1d4dc" textLength="27.6" lengthAdjust="spacingAndGlyphs">143.500</text>
<rect x="892.0" y="111" width="3.5" height="1" fill="#6b6e78"/>
<text x="899" y="115.10" font-family="Liberation Sans" font-size="10.2" fill="#d1d4dc" textLength="27.6" lengthAdjust="spacingAndGlyphs">143.000</text>
<rect x="892.0" y="145" width="3.5" height="1" fill="#6b6e78"/>
<text x="899" y="149.10" font-family="Liberation Sans" font-size="10.2" fill="#d1d4dc" textLength="27.6" lengthAdjust="spacingAndGlyphs">142.500</text>
<rect x="892.0" y="179" width="3.5" height="1" fill="#6b6e78"/>
<text x="899" y="183.10" font-family="Liberation Sans" font-size="10.2" fill="#d1d4dc" textLength="27.6" lengthAdjust="spacingAndGlyphs">142.000</text>
<rect x="892.0" y="247" width="3.5" height="1" fill="#6b6e78"/>
<text x="899" y="251.10" font-family="Liberation Sans" font-size="10.2" fill="#d1d4dc" textLength="27.6" lengthAdjust="spacingAndGlyphs">141.000</text>
<rect x="892.0" y="280" width="3.5" height="1" fill="#6b6e78"/>
<text x="899" y="284.10" font-family="Liberation Sans" font-size="10.2" fill="#d1d4dc" textLength="27.6" lengthAdjust="spacingAndGlyphs">140.500</text>
<rect x="892.0" y="314" width="3.5" height="1" fill="#6b6e78"/>
<text x="899" y="318.10" font-family="Liberation Sans" font-size="10.2" fill="#d1d4dc" textLength="27.6" lengthAdjust="spacingAndGlyphs">140.000</text>
<rect x="892.0" y="349" width="3.5" height="1" fill="#6b6e78"/>
<text x="899" y="353.10" font-family="Liberation Sans" font-size="10.2" fill="#d1d4dc" textLength="27.6" lengthAdjust="spacingAndGlyphs">139.500</text>
<rect x="892.0" y="415" width="3.5" height="1" fill="#6b6e78"/>
<text x="899" y="419.10" font-family="Liberation Sans" font-size="10.2" fill="#d1d4dc" textLength="27.6" lengthAdjust="spacingAndGlyphs">138.500</text>
<rect x="892.0" y="450" width="3.5" height="1" fill="#6b6e78"/>
<text x="899" y="454.10" font-family="Liberation Sans" font-size="10.2" fill="#d1d4dc" textLength="27.6" lengthAdjust="spacingAndGlyphs">138.000</text>
<rect x="892.0" y="484" width="3.5" height="1" fill="#6b6e78"/>
<text x="899" y="488.10" font-family="Liberation Sans" font-size="10.2" fill="#d1d4dc" textLength="27.6" lengthAdjust="spacingAndGlyphs">137.500</text>
<rect x="892.0" y="518" width="3.5" height="1" fill="#6b6e78"/>
<text x="899" y="522.10" font-family="Liberation Sans" font-size="10.2" fill="#d1d4dc" textLength="27.6" lengthAdjust="spacingAndGlyphs">137.000</text>
<rect x="892.0" y="180.5" width="40.5" height="12.699999999999989" fill="#ffffff"/>
<rect x="892.0" y="186.35" width="2.5" height="1" fill="#000000"/>
<text x="899" y="190.45" font-family="Liberation Sans" font-size="10.2" fill="#000000" textLength="27.6" lengthAdjust="spacingAndGlyphs">141.873</text>
<rect x="892.0" y="193.6" width="40.5" height="13.0" fill="#c20d3d"/>
<rect x="892.0" y="199.6" width="2.5" height="1" fill="#ffffff"/>
<text x="899" y="203.70" font-family="Liberation Sans" font-size="10.2" fill="#ffffff" textLength="27.6" lengthAdjust="spacingAndGlyphs">141.792</text>
<rect x="892.0" y="206.6" width="40.5" height="13.0" fill="#c20d3d"/>
<text x="895.2" y="216.70" font-family="Liberation Sans" font-size="10.2" fill="#ffffff" textLength="31" lengthAdjust="spacingAndGlyphs">03:09:07</text>
<rect x="892.0" y="220" width="40.5" height="12.300000000000011" fill="#ff00ff"/>
<rect x="892.0" y="225.65" width="2.5" height="1" fill="#ffffff"/>
<text x="899" y="229.75" font-family="Liberation Sans" font-size="10.2" fill="#ffffff" textLength="27.6" lengthAdjust="spacingAndGlyphs">141.606</text>
<rect x="892.0" y="232.6" width="40.5" height="12.200000000000017" fill="#ffffff"/>
<rect x="892.0" y="238.2" width="2.5" height="1" fill="#000000"/>
<text x="899" y="242.30" font-family="Liberation Sans" font-size="10.2" fill="#000000" textLength="27.6" lengthAdjust="spacingAndGlyphs">141.290</text>
<rect x="892.0" y="349" width="40.5" height="12.800000000000011" fill="#ffffff"/>
<rect x="892.0" y="354.9" width="2.5" height="1" fill="#000000"/>
<text x="899" y="359.00" font-family="Liberation Sans" font-size="10.2" fill="#000000" textLength="27.6" lengthAdjust="spacingAndGlyphs">139.393</text>
<rect x="892.0" y="373.3" width="40.5" height="12.699999999999989" fill="#ffffff"/>
<rect x="892.0" y="379.15" width="2.5" height="1" fill="#000000"/>
<text x="899" y="383.25" font-family="Liberation Sans" font-size="10.2" fill="#000000" textLength="27.6" lengthAdjust="spacingAndGlyphs">139.044</text>
<rect x="45.0" y="529.0" width="1" height="3.5" fill="#6b6e78"/>
<text x="45.10" y="543.4" text-anchor="middle" font-family="Liberation Sans" font-size="9.5" fill="#dcdee4" stroke="#dcdee4" stroke-width="0.25" textLength="8.3" lengthAdjust="spacingAndGlyphs">14</text>
<rect x="127.0" y="529.0" width="1" height="3.5" fill="#6b6e78"/>
<text x="127.10" y="543.4" text-anchor="middle" font-family="Liberation Sans" font-size="9.5" fill="#dcdee4" stroke="#dcdee4" stroke-width="0.25" textLength="8.3" lengthAdjust="spacingAndGlyphs">21</text>
<rect x="208.0" y="529.0" width="1" height="3.5" fill="#6b6e78"/>
<text x="208.10" y="543.4" text-anchor="middle" font-family="Liberation Sans" font-size="9.5" fill="#dcdee4" stroke="#dcdee4" stroke-width="0.25" textLength="8.3" lengthAdjust="spacingAndGlyphs">28</text>
<rect x="274.5" y="529.0" width="1" height="3.5" fill="#6b6e78"/>
<text x="274.60" y="543.4" text-anchor="middle" font-family="Liberation Sans" font-size="9.5" font-weight="bold" fill="#dcdee4" stroke="#dcdee4" stroke-width="0.25" textLength="15.5" lengthAdjust="spacingAndGlyphs">Nov</text>
<rect x="373.0" y="529.0" width="1" height="3.5" fill="#6b6e78"/>
<text x="373.10" y="543.4" text-anchor="middle" font-family="Liberation Sans" font-size="9.5" fill="#dcdee4" stroke="#dcdee4" stroke-width="0.25" textLength="8.3" lengthAdjust="spacingAndGlyphs">11</text>
<rect x="454.0" y="529.0" width="1" height="3.5" fill="#6b6e78"/>
<text x="454.10" y="543.4" text-anchor="middle" font-family="Liberation Sans" font-size="9.5" fill="#dcdee4" stroke="#dcdee4" stroke-width="0.25" textLength="8.3" lengthAdjust="spacingAndGlyphs">18</text>
<rect x="536.0" y="529.0" width="1" height="3.5" fill="#6b6e78"/>
<text x="536.10" y="543.4" text-anchor="middle" font-family="Liberation Sans" font-size="9.5" fill="#dcdee4" stroke="#dcdee4" stroke-width="0.25" textLength="8.3" lengthAdjust="spacingAndGlyphs">25</text>
<rect x="613.0" y="529.0" width="1" height="3.5" fill="#6b6e78"/>
<text x="613.10" y="543.4" text-anchor="middle" font-family="Liberation Sans" font-size="9.5" font-weight="bold" fill="#dcdee4" stroke="#dcdee4" stroke-width="0.25" textLength="15.5" lengthAdjust="spacingAndGlyphs">Dec</text>
<rect x="701.0" y="529.0" width="1" height="3.5" fill="#6b6e78"/>
<text x="701.10" y="543.4" text-anchor="middle" font-family="Liberation Sans" font-size="9.5" fill="#dcdee4" stroke="#dcdee4" stroke-width="0.25" textLength="4.15" lengthAdjust="spacingAndGlyphs">9</text>
<rect x="783.0" y="529.0" width="1" height="3.5" fill="#6b6e78"/>
<text x="783.10" y="543.4" text-anchor="middle" font-family="Liberation Sans" font-size="9.5" fill="#dcdee4" stroke="#dcdee4" stroke-width="0.25" textLength="8.3" lengthAdjust="spacingAndGlyphs">16</text>
<rect x="864.5" y="529.0" width="1" height="3.5" fill="#6b6e78"/>
<text x="864.60" y="543.4" text-anchor="middle" font-family="Liberation Sans" font-size="9.5" fill="#dcdee4" stroke="#dcdee4" stroke-width="0.25" textLength="8.3" lengthAdjust="spacingAndGlyphs">23</text></svg>
</body></html>
